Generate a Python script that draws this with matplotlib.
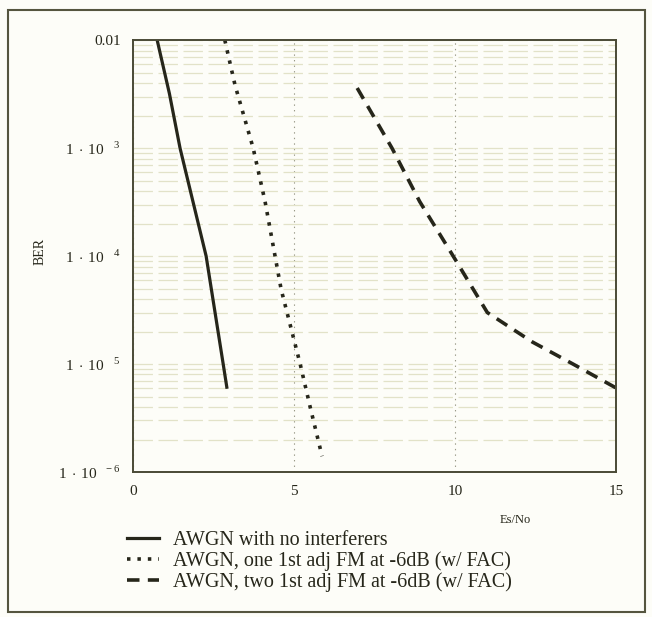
# coding = utf-8
"""
BER vs Es/No for AWGN with and without 1st adjacent FM interferers
"""
import matplotlib
matplotlib.use("Agg")
import matplotlib.pyplot as plt
from matplotlib.lines import Line2D
from matplotlib.patches import Rectangle

# data
awgn_x = [0.75, 1.13, 1.46, 2.27, 2.8, 2.92]
awgn_ber = [1e-2, 3.2e-3, 1e-3, 1e-4, 1e-5, 5.9e-6]

one_adj_x = [2.85, 3.17, 3.73, 4.1, 4.41, 4.6, 5.19, 5.5, 5.87]
one_adj_ber = [1e-2, 3.8e-3, 1e-3, 3.2e-4, 1e-4, 4.9e-5, 1e-5, 4e-6, 1.4e-6]

two_adj_x = [6.96, 8.04, 8.9, 9.94, 11.0, 12.4, 13.66, 15.0]
two_adj_ber = [3.6e-3, 1e-3, 3.2e-4, 1e-4, 3e-5, 1.6e-5, 1e-5, 6e-6]

x_ticks = [0, 5, 10, 15]
y_ticks = [1e-2, 1e-3, 1e-4, 1e-5, 1e-6]
y_tick_labels = ["0.01",
                 r"1$\,\cdot\,$10$^{\quad 3}$", r"1$\,\cdot\,$10$^{\quad 4}$",
                 r"1$\,\cdot\,$10$^{\quad 5}$", r"1$\,\cdot\,$10$^{\ \ -6}$"]

labels = ["AWGN with no interferers",
          "AWGN, one 1st adj FM at -6dB (w/ FAC)",
          "AWGN, two 1st adj FM at -6dB (w/ FAC)"]

ink = "#26261a"
plt.rcParams["font.family"] = ["Liberation Serif", "DejaVu Serif"]
plt.rcParams["mathtext.fontset"] = "custom"
plt.rcParams["mathtext.rm"] = "Liberation Serif"
plt.rcParams["lines.scale_dashes"] = False

fig = plt.figure(figsize=(6.52, 6.17), dpi=100)
fig.patch.set_facecolor("#fdfdf8")
fig.patches.append(Rectangle((0.013, 0.008), 0.977, 0.975, transform=fig.transFigure,
                             fill=False, edgecolor="#55553f", linewidth=1.5))

ax = fig.add_axes([0.204, 0.235, 0.741, 0.700])
ax.set_facecolor("#fdfdf8")
ax.set_yscale("log")
ax.set_xlim(0, 15)
ax.set_ylim(1e-6, 1e-2)

ax.grid(True, which="both", axis="y", color="#e2e2c8", linewidth=0.9,
        linestyle=(0, (14, 4)))
ax.grid(True, which="major", axis="x", color="#9a9a88", linewidth=0.8,
        linestyle=(0, (1, 3)))

l1, = ax.plot(awgn_x, awgn_ber, color=ink, linewidth=2.3, solid_capstyle="butt")
l2, = ax.plot(one_adj_x, one_adj_ber, color=ink, linewidth=2.6,
              dashes=(2.5, 5))
l3, = ax.plot(two_adj_x, two_adj_ber, color=ink, linewidth=2.6,
              dashes=(9, 6))

ax.set_xticks(x_ticks)
ax.set_xticklabels([str(v) for v in x_ticks], fontsize=11)
ax.set_yticks(y_ticks)
ax.set_yticklabels(y_tick_labels, fontsize=11)
ax.tick_params(which="both", length=0, pad=9, colors=ink)
ax.tick_params(which="minor", labelleft=False)
for s in ax.spines.values():
    s.set_color("#4a4a36")
    s.set_linewidth(1.4)

fig.text(0.79, 0.157, "Es/No", fontsize=9, ha="center", va="center", color=ink)
fig.text(0.062, 0.592, "BER", fontsize=10, rotation=90, ha="center", va="center",
         color=ink)

handles = [Line2D([], [], color=ink, linewidth=2.3),
           Line2D([], [], color=ink, linewidth=2.6, dashes=(2.5, 5)),
           Line2D([], [], color=ink, linewidth=2.6, dashes=(9, 6))]
fig.legend(handles, labels, loc="upper left", bbox_to_anchor=(0.195, 0.139),
           frameon=False, fontsize=14.5, handlelength=1.6, handletextpad=0.7,
           labelspacing=0.06, borderpad=0.0, borderaxespad=0.0,
           labelcolor=ink)

fig.savefig("out.png", dpi=100, facecolor=fig.get_facecolor())
